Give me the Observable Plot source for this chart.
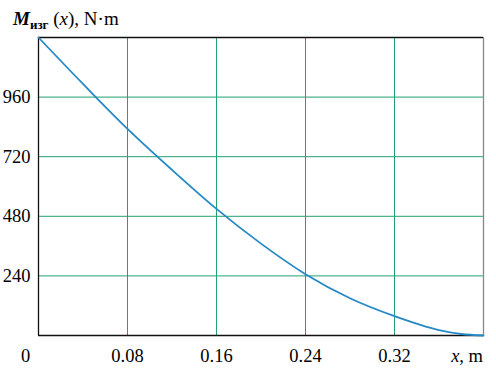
<!DOCTYPE html>
<html>
<head>
<meta charset="utf-8">
<script src="https://cdn.jsdelivr.net/npm/d3@7"></script>
<script src="https://cdn.jsdelivr.net/npm/@observablehq/plot@0.6"></script>
<style>
  html, body { margin: 0; padding: 0; background: #fff; }
  #chart { width: 496px; height: 374px; }
</style>
</head>
<body>
<div id="chart"></div>
<script>
// Data
const xs = [0, 0.04, 0.08, 0.12, 0.16, 0.20, 0.24, 0.28, 0.32, 0.36, 0.38, 0.40];
const moments = [1200, 1013, 832, 667, 510, 370, 247, 150, 78, 22, 6, 0];
const xTicks = [0.08, 0.16, 0.24, 0.32];
const yTicks = [240, 480, 720, 960];
const xDomain = [0, 0.4];
const yDomain = [0, 1200];

const data = xs.map((x, i) => ({x, m: moments[i]}));

const gridColor = "#23a070";
const curveColor = "#2489c6";
const font = "'Liberation Serif', 'Times New Roman', serif";
const fs = 18.5;

const plot = Plot.plot({
  width: 496,
  height: 374,
  marginLeft: 38,
  marginRight: 13,
  marginTop: 37,
  marginBottom: 39,
  x: {domain: xDomain},
  y: {domain: yDomain},
  style: {fontFamily: font, fontSize: fs + "px", background: "#fff", color: "#000"},
  marks: [
    Plot.ruleX(xTicks, {stroke: gridColor, strokeWidth: 1}),
    Plot.ruleY(yTicks, {stroke: gridColor, strokeWidth: 1}),
    Plot.ruleX([xDomain[1]], {stroke: "#888", strokeWidth: 1.3}),
    Plot.ruleX([xDomain[0]], {stroke: "#111", strokeWidth: 1.3}),
    Plot.ruleY([yDomain[0]], {stroke: "#111", strokeWidth: 1.3}),
    Plot.ruleY([yDomain[1]], {stroke: "#111", strokeWidth: 1.3}),
    Plot.line(data, {x: "x", y: "m", stroke: curveColor, strokeWidth: 1.8, curve: "monotone-x"}),
    Plot.axisY(yTicks, {tickSize: 0, tickPadding: 8, label: null, fontSize: fs}),
    Plot.axisX(xTicks, {tickSize: 0, tickPadding: 13, label: null, fontSize: fs, tickFormat: d => String(d)}),
    Plot.axisX([0], {tickSize: 0, tickPadding: 13, label: null, fontSize: fs, dx: -13, tickFormat: d => String(d)})
  ]
});

document.getElementById("chart").appendChild(plot);

// Axis titles, positioned from the plot's scales
const svg = d3.select(plot);
const sx = plot.scale("x");
const sy = plot.scale("y");

const xRight = sx.apply(xDomain[1]);
const yBottom = sy.apply(yDomain[0]);
const yTop = sy.apply(yDomain[1]);
const xLeft = sx.apply(xDomain[0]);

const xt = svg.append("text")
  .attr("x", xRight)
  .attr("y", yBottom + 27)
  .style("text-anchor", "end")
  .attr("font-family", font)
  .attr("font-size", fs)
  .attr("fill", "#000");
xt.append("tspan").attr("font-style", "italic").text("x");
xt.append("tspan").text(", m");

const yt = svg.append("text")
  .attr("x", xLeft - 25)
  .attr("y", yTop - 12)
  .style("text-anchor", "start")
  .attr("font-family", font)
  .attr("font-size", 19)
  .attr("fill", "#000");
yt.append("tspan").attr("font-style", "italic").attr("font-weight", "bold").text("M");
yt.append("tspan").attr("font-size", 13).attr("font-weight", "bold").attr("dy", 4).text("изг");
yt.append("tspan").attr("dy", -4).text(" (");
yt.append("tspan").attr("font-style", "italic").text("x");
yt.append("tspan").text("), N·m");
</script>
</body>
</html>
